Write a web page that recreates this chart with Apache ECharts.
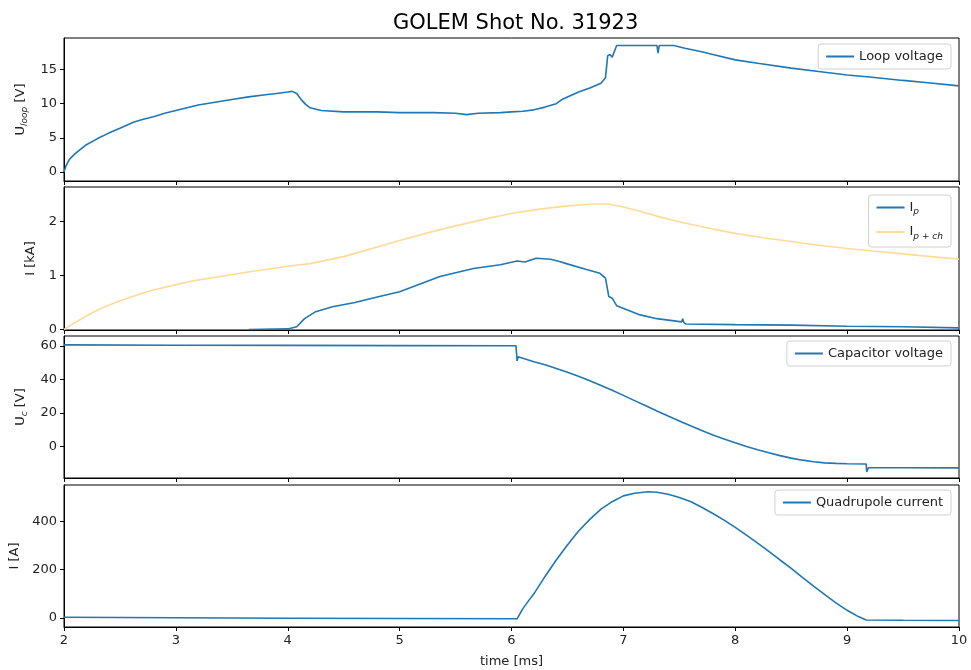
<!DOCTYPE html>
<html>
<head>
<meta charset="utf-8">
<script src="https://cdn.jsdelivr.net/npm/echarts@6/dist/echarts.min.js"></script>
<style>
  html, body { margin: 0; padding: 0; background: #fff; }
  #main { width: 971px; height: 670px; }
</style>
</head>
<body>
<div id="main"></div>
<script>
// loop voltage [V]
var tLoop = [2.0, 2.01, 2.02, 2.03, 2.05, 2.1, 2.2, 2.3, 2.4, 2.5, 2.62, 2.7, 2.8, 2.9, 3.0, 3.1, 3.2, 3.35, 3.5, 3.65, 3.8, 3.9, 4.0, 4.04, 4.08, 4.12, 4.16, 4.2, 4.3, 4.5, 4.8, 5.0, 5.3, 5.5, 5.6, 5.7, 5.9, 6.0, 6.1, 6.2, 6.3, 6.4, 6.45, 6.6, 6.7, 6.8, 6.84, 6.86, 6.88, 6.9, 6.94, 7.3, 7.31, 7.32, 7.45, 7.55, 7.7, 7.8, 8.0, 8.2, 8.5, 8.8, 9.0, 9.2, 9.5, 9.7, 10.0];
var uLoop = [0, 0, 1.0, 1.3, 1.9, 2.7, 4.0, 4.9, 5.7, 6.4, 7.3, 7.7, 8.1, 8.6, 9.0, 9.4, 9.8, 10.2, 10.6, 11.0, 11.3, 11.5, 11.7, 11.8, 11.5, 10.6, 9.9, 9.4, 9.0, 8.8, 8.8, 8.7, 8.7, 8.6, 8.4, 8.6, 8.7, 8.8, 8.9, 9.1, 9.5, 10.0, 10.6, 11.7, 12.3, 13.0, 13.8, 17.0, 17.2, 16.8, 18.5, 18.5, 17.4, 18.5, 18.5, 18.1, 17.6, 17.2, 16.4, 15.9, 15.2, 14.6, 14.2, 13.9, 13.4, 13.1, 12.6];

// plasma current + chamber current [kA]
var tIpch = [2.0, 2.1, 2.2, 2.3, 2.4, 2.5, 2.6, 2.7, 2.8, 2.9, 3.0, 3.15, 3.3, 3.45, 3.6, 3.8, 4.0, 4.2, 4.5, 5.0, 5.25, 5.5, 5.75, 6.0, 6.25, 6.5, 6.7, 6.85, 7.0, 7.15, 7.3, 7.45, 7.6, 7.8, 8.0, 8.25, 8.5, 8.75, 9.0, 9.25, 9.5, 9.75, 10.0];
var ipch = [0, 0.13, 0.25, 0.36, 0.45, 0.53, 0.6, 0.67, 0.73, 0.78, 0.83, 0.9, 0.95, 1.0, 1.05, 1.11, 1.17, 1.22, 1.35, 1.65, 1.79, 1.92, 2.04, 2.15, 2.23, 2.29, 2.32, 2.33, 2.27, 2.19, 2.1, 2.02, 1.95, 1.86, 1.78, 1.7, 1.63, 1.56, 1.5, 1.45, 1.4, 1.35, 1.3];

// plasma current [kA]
var tIp = [3.65, 4.0, 4.08, 4.15, 4.25, 4.4, 4.6, 4.8, 5.0, 5.36, 5.66, 5.9, 6.05, 6.12, 6.22, 6.35, 6.43, 6.49, 6.67, 6.79, 6.84, 6.87, 6.9, 6.94, 7.15, 7.3, 7.52, 7.53, 7.54, 7.56, 8.0, 8.5, 9.0, 9.5, 10.0];
var ip = [0, 0.01, 0.05, 0.2, 0.33, 0.42, 0.5, 0.6, 0.7, 0.98, 1.13, 1.2, 1.27, 1.25, 1.32, 1.3, 1.26, 1.22, 1.11, 1.04, 0.95, 0.61, 0.58, 0.44, 0.27, 0.2, 0.14, 0.2, 0.13, 0.1, 0.09, 0.08, 0.06, 0.05, 0.03];

// capacitor voltage [V]
var tCap = [2.0, 3.0, 4.0, 5.0, 6.04, 6.05, 6.06, 6.07, 6.2, 6.3, 6.4, 6.5, 6.61, 6.7, 6.79, 6.9, 7.0, 7.1, 7.2, 7.3, 7.4, 7.5, 7.6, 7.7, 7.8, 7.9, 8.0, 8.1, 8.2, 8.3, 8.4, 8.5, 8.6, 8.7, 8.8, 8.9, 9.0, 9.17, 9.175, 9.19, 9.5, 10.0];
var uCap = [60.5, 60.3, 60.2, 60.1, 60.0, 51.0, 53.5, 52.5, 50.5, 48.7, 46.5, 44.2, 41.6, 39.2, 36.7, 33.6, 30.5, 27.4, 24.3, 21.2, 18.2, 15.3, 12.4, 9.6, 7.0, 4.6, 2.3, 0.1, -1.8, -3.6, -5.3, -6.8, -8.0, -8.9, -9.6, -9.9, -10.1, -10.3, -15.0, -12.5, -12.5, -12.6];

// quadrupole current [A]
var tQuad = [2.0, 3.0, 4.0, 5.0, 6.03, 6.05, 6.1, 6.15, 6.2, 6.3, 6.4, 6.5, 6.6, 6.7, 6.8, 6.9, 7.0, 7.1, 7.22, 7.3, 7.4, 7.5, 7.6, 7.7, 7.8, 7.9, 8.0, 8.1, 8.2, 8.3, 8.4, 8.5, 8.6, 8.7, 8.8, 8.9, 9.0, 9.1, 9.17, 9.5, 10.0];
var iQuad = [3, 1, -1, -2, -3, -3, 38, 70, 100, 172, 240, 302, 360, 408, 450, 481, 505, 516, 522, 520, 512, 498, 482, 458, 432, 405, 375, 343, 310, 276, 240, 205, 168, 132, 97, 63, 32, 6, -8, -9, -10];

// tick labels
var xTicks = [2, 3, 4, 5, 6, 7, 8, 9, 10];
var yTicks1 = [0, 5, 10, 15];
var yTicks2 = [0, 1, 2];
var yTicks3 = [0, 20, 40, 60];
var yTicks4 = [0, 200, 400];

function zip(t, v) {
  return t.map(function (x, i) { return [x, v[i]]; });
}

var FONT = 'DejaVu Sans';
var BLUE = '#1f77b4';
var ORANGE = '#ffdb99';

var grids = [
  { top: 38, height: 143 },
  { top: 187, height: 143 },
  { top: 336, height: 142 },
  { top: 485, height: 142 }
].map(function (g) {
  return { left: 64, right: 12, top: g.top, height: g.height, show: true, borderColor: '#000', borderWidth: 1, backgroundColor: 'transparent' };
});

function xAx(i) {
  var last = i === 3;
  return {
    type: 'value', gridIndex: i, min: 2, max: 10, interval: 1,
    axisLine: { show: true, onZero: false, lineStyle: { color: '#000', width: 1 } },
    axisTick: { show: true, length: 4, lineStyle: { color: '#000' } },
    axisLabel: { show: last, color: '#222', fontFamily: FONT, fontSize: 13, margin: 7 },
    splitLine: { show: false },
    name: last ? 'time [ms]' : '',
    nameLocation: 'middle', nameGap: 28,
    nameTextStyle: { color: '#222', fontFamily: FONT, fontSize: 13 }
  };
}

var nameRich = {
  n: { fontFamily: FONT, fontSize: 13, color: '#222', lineHeight: 18 },
  s: { fontFamily: FONT, fontSize: 9, color: '#222', fontStyle: 'italic', lineHeight: 10, verticalAlign: 'bottom' }
};

function yAx(i, min, max, ticks, name, gap) {
  return {
    type: 'value', gridIndex: i, min: min, max: max,
    axisLine: { show: true, onZero: false, lineStyle: { color: '#000', width: 1 } },
    axisTick: { show: true, length: 4, customValues: ticks, lineStyle: { color: '#000' } },
    axisLabel: { customValues: ticks, color: '#222', fontFamily: FONT, fontSize: 13, margin: 7 },
    splitLine: { show: false },
    name: name, nameLocation: 'middle', nameRotate: 90, nameGap: gap,
    nameTextStyle: { rich: nameRich }
  };
}

function legendBox(i, names, top, fmt) {
  return {
    show: true, data: names, right: 20, top: top, orient: 'vertical',
    icon: 'rect', itemWidth: 28, itemHeight: 2, itemGap: 9,
    padding: [6, 8, 6, 8],
    backgroundColor: '#fff', borderColor: '#d0d0d0', borderWidth: 1, borderRadius: 3,
    textStyle: { fontFamily: FONT, fontSize: 13, color: '#222', rich: nameRich },
    formatter: fmt || function (n) { return n; }
  };
}

function line(name, data, xi, color) {
  return {
    name: name, type: 'line', xAxisIndex: xi, yAxisIndex: xi, data: data,
    showSymbol: false, symbol: 'none', animation: false,
    lineStyle: { color: color, width: 1.6 }, itemStyle: { color: color }
  };
}

var option = {
  backgroundColor: '#fff',
  animation: false,
  title: {
    text: 'GOLEM Shot No. 31923', left: 388, top: 8,
    textStyle: { fontFamily: FONT, fontSize: 21, fontWeight: 'normal', color: '#000' }
  },
  grid: grids,
  xAxis: [xAx(0), xAx(1), xAx(2), xAx(3)],
  yAxis: [
    yAx(0, -1.3, 19.6, yTicks1, '{n|U}{s|loop}{n| [V]}', 33),
    yAx(1, -0.01, 2.64, yTicks2, '{n|I [kA]}', 24),
    yAx(2, -18.6, 65.8, yTicks3, '{n|U}{s|c}{n| [V]}', 31),
    yAx(3, -37, 550, yTicks4, '{n|I [A]}', 39)
  ],
  legend: [
    legendBox(0, ['Loop voltage'], 44),
    legendBox(1, ['I_p', 'I_p+ch'], 195, function (n) {
      return n === 'I_p' ? '{n|I}{s|p}' : '{n|I}{s|p + ch}';
    }),
    legendBox(2, ['Capacitor voltage'], 341),
    legendBox(3, ['Quadrupole current'], 490)
  ],
  series: [
    line('Loop voltage', zip(tLoop, uLoop), 0, BLUE),
    line('I_p+ch', zip(tIpch, ipch), 1, ORANGE),
    line('I_p', zip(tIp, ip), 1, BLUE),
    line('Capacitor voltage', zip(tCap, uCap), 2, BLUE),
    line('Quadrupole current', zip(tQuad, iQuad), 3, BLUE)
  ]
};

var chart = echarts.init(document.getElementById('main'));
chart.setOption(option);
</script>
</body>
</html>
